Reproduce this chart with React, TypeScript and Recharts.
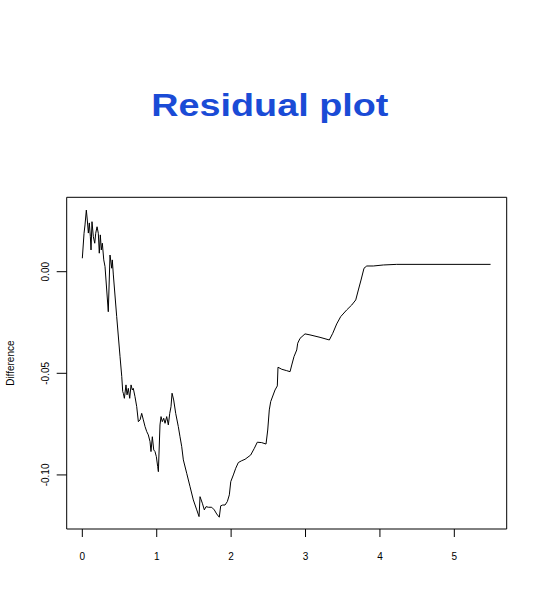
import React from 'react';
import { LineChart, Line, XAxis, YAxis, ReferenceArea } from 'recharts';

// x positions and residual differences
const xValues = [
  0, 0.023, 0.036, 0.054, 0.067, 0.081, 0.094, 0.108, 0.117, 0.13,
  0.148, 0.167, 0.18, 0.198, 0.215, 0.228, 0.242, 0.255, 0.269, 0.288,
  0.305, 0.349, 0.372, 0.395, 0.403, 0.417, 0.462, 0.507, 0.53, 0.543,
  0.551, 0.565, 0.587, 0.601, 0.618, 0.637, 0.655, 0.672, 0.685, 0.708,
  0.731, 0.753, 0.776, 0.798, 0.82, 0.843, 0.866, 0.887, 0.91, 0.923,
  0.941, 0.96, 0.977, 0.995, 1.013, 1.022, 1.044, 1.058, 1.075, 1.094,
  1.112, 1.134, 1.156, 1.175, 1.192, 1.206, 1.228, 1.255, 1.29, 1.313,
  1.336, 1.358, 1.403, 1.448, 1.492, 1.538, 1.569, 1.582, 1.613, 1.64,
  1.663, 1.694, 1.739, 1.774, 1.806, 1.841, 1.86, 1.887, 1.918, 1.949,
  1.976, 1.995, 2.03, 2.062, 2.097, 2.142, 2.187, 2.263, 2.312, 2.352,
  2.411, 2.469, 2.492, 2.513, 2.532, 2.59, 2.621, 2.63, 2.68, 2.747,
  2.792, 2.815, 2.845, 2.882, 2.895, 2.926, 2.993, 3.06, 3.195, 3.32,
  3.366, 3.419, 3.473, 3.554, 3.621, 3.675, 3.71, 3.746, 3.786, 3.823,
  3.911, 4.046, 4.226, 5.487,
];

const differences = [
  0.0066, 0.0189, 0.023, 0.0303, 0.0254, 0.019, 0.024, 0.0172, 0.0107, 0.0246,
  0.0172, 0.014, 0.0189, 0.0221, 0.0189, 0.0091, 0.0181, 0.0107, 0.014, 0.0058,
  0.0025, -0.0197, 0.0082, 0.0017, 0.0058, -0.0016, -0.0221, -0.0418, -0.0516, -0.059,
  -0.0598, -0.0623, -0.0557, -0.0606, -0.0574, -0.0623, -0.0557, -0.0582, -0.0574, -0.0615,
  -0.0664, -0.0738, -0.0729, -0.0697, -0.0729, -0.0762, -0.0787, -0.0803, -0.0836, -0.0885,
  -0.0812, -0.0877, -0.0885, -0.091, -0.0959, -0.0984, -0.0754, -0.0713, -0.0738, -0.0721,
  -0.0746, -0.0713, -0.0754, -0.0697, -0.0664, -0.0598, -0.0631, -0.0697, -0.0762, -0.0812,
  -0.0861, -0.0926, -0.0992, -0.1058, -0.1123, -0.1172, -0.1205, -0.1107, -0.1139, -0.1172,
  -0.1156, -0.1159, -0.1159, -0.1172, -0.1192, -0.1208, -0.1152, -0.1148, -0.1148, -0.1131,
  -0.1098, -0.1033, -0.1, -0.0967, -0.0939, -0.093, -0.0923, -0.0902, -0.0869, -0.0839,
  -0.0841, -0.0848, -0.0779, -0.068, -0.0639, -0.0582, -0.0562, -0.047, -0.048, -0.0487,
  -0.0492, -0.0459, -0.0418, -0.0385, -0.0352, -0.0328, -0.0306, -0.0311, -0.0323, -0.0336,
  -0.0303, -0.0257, -0.0221, -0.0188, -0.0164, -0.0139, -0.009, -0.0041, 0.0017, 0.0028,
  0.0028, 0.0033, 0.0036, 0.0036,
];

const xTicks = [0, 1, 2, 3, 4, 5];
const yTicks = [-0.1, -0.05, 0];
const xDomain = [-0.21, 5.704];
const yDomain = [-0.1266, 0.0366];

const data = xValues.map((x, i) => ({ x, diff: differences[i] }));

const FONT = "'Liberation Sans', Arial, sans-serif";

const YTick = (props: any) => {
  const { x, y, payload } = props;
  return (
    <text
      x={x}
      y={y}
      dy={-1}
      transform={`rotate(-90 ${x} ${y})`}
      textAnchor="middle"
      fontSize={10}
      fill="#000"
      fontFamily={FONT}
    >
      {Number(payload.value).toFixed(2)}
    </text>
  );
};

export default function App() {
  return (
    <div style={{ position: 'absolute', left: 0, top: 0, width: 540, height: 612, background: '#fff' }}>
      <div
        style={{
          position: 'absolute',
          left: 0,
          top: 89,
          width: 540,
          textAlign: 'center',
          fontFamily: FONT,
          fontWeight: 'bold',
          fontSize: 32,
          lineHeight: '32px',
          color: '#1a4bd6',
          transform: 'scaleX(1.18)',
          transformOrigin: '271px 0',
        }}
      >
        Residual plot
      </div>
      <LineChart
        width={540}
        height={612}
        data={data}
        margin={{ top: 197.3, right: 33.3, left: 0, bottom: 43 }}
        style={{ position: 'absolute', left: 0, top: 0 }}
      >
        <XAxis
          dataKey="x"
          type="number"
          domain={xDomain}
          ticks={xTicks}
          allowDataOverflow
          height={40}
          axisLine={false}
          tickSize={8}
          tickMargin={16}
          tickLine={{ stroke: '#000' }}
          tick={{ fontSize: 10, fill: '#000', fontFamily: FONT }}
        />
        <YAxis
          type="number"
          domain={yDomain}
          ticks={yTicks}
          allowDataOverflow
          width={66.7}
          axisLine={false}
          tickSize={10}
          tickMargin={7}
          tickLine={{ stroke: '#000' }}
          tick={<YTick />}
          label={{
            value: 'Difference',
            angle: -90,
            position: 'insideLeft',
            offset: 10,
            style: { textAnchor: 'middle', fontSize: 10, fill: '#000', fontFamily: FONT },
          }}
        />
        <ReferenceArea
          x1={xDomain[0]}
          x2={xDomain[1]}
          y1={yDomain[0]}
          y2={yDomain[1]}
          fill="none"
          stroke="#000"
          strokeWidth={1}
          fillOpacity={0}
        />
        <Line
          type="linear"
          dataKey="diff"
          stroke="#000"
          strokeWidth={1}
          dot={false}
          isAnimationActive={false}
        />
      </LineChart>
    </div>
  );
}
